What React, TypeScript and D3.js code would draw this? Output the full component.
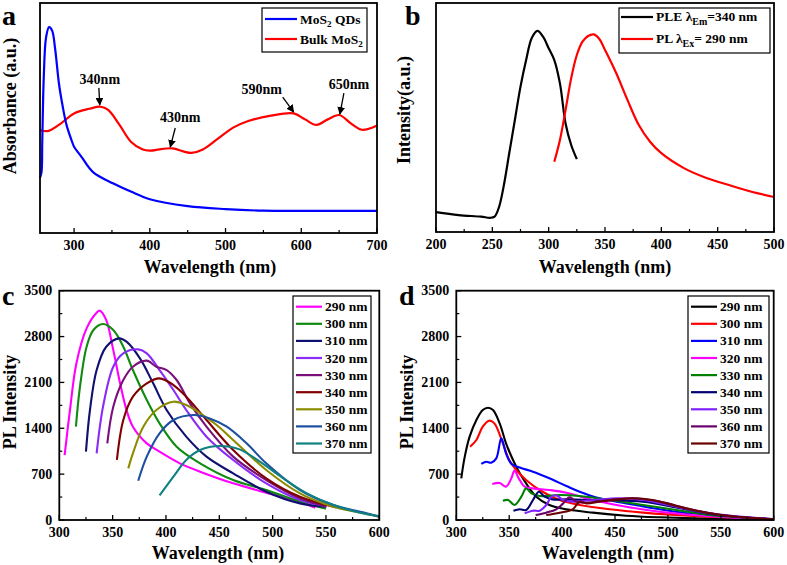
import React from "react";
import * as d3 from "d3";

type P = [number, number];

// ---------- Panel a: absorbance (a.u.) ----------
const qdsAbs: P[] = [[255,0.24],[257,0.265],[258,0.4],[260,0.68],[263,0.85],[267,0.895],[271,0.88],[275,0.8],[280,0.65],[285,0.55],[290,0.47],[297,0.4],[300,0.375],[310,0.33],[325,0.265],[352,0.215],[375,0.18],[400,0.147],[450,0.117],[500,0.104],[550,0.097],[600,0.096],[700,0.096]];
const bulkAbs: P[] = [[255,0.448],[265,0.443],[280,0.47],[300,0.52],[320,0.54],[335,0.549],[345,0.535],[360,0.47],[375,0.397],[390,0.364],[400,0.358],[415,0.365],[430,0.368],[445,0.354],[455,0.348],[470,0.363],[490,0.41],[510,0.458],[530,0.487],[560,0.51],[590,0.52],[605,0.494],[620,0.47],[635,0.494],[650,0.513],[665,0.478],[680,0.449],[695,0.46],[700,0.468]];
const absPeaks = [
  { label: "340nm", nm: 334, v: 0.557, dx: -1, dy: -17, tx: 0, ty: -21 },
  { label: "430nm", nm: 427, v: 0.374, dx: 5, dy: -19, tx: 10, ty: -25 },
  { label: "590nm", nm: 590, v: 0.526, dx: -11, dy: -15, tx: -32, ty: -18 },
  { label: "650nm", nm: 651, v: 0.517, dx: 4, dy: -21, tx: 9, ty: -25 },
];

// ---------- Panel b: PLE / PL ----------
const pleCurve: P[] = [[200,0.087],[220,0.074],[240,0.067],[248,0.062],[252,0.067],[256,0.11],[260,0.198],[265,0.344],[270,0.489],[275,0.635],[280,0.751],[285,0.847],[290,0.878],[295,0.853],[300,0.802],[305,0.751],[310,0.649],[315,0.474],[320,0.38],[325,0.318]];
const plCurve: P[] = [[305,0.307],[310,0.402],[315,0.533],[320,0.672],[325,0.773],[330,0.831],[335,0.856],[340,0.863],[345,0.843],[350,0.795],[360,0.693],[370,0.576],[380,0.467],[390,0.394],[400,0.344],[420,0.279],[440,0.236],[460,0.205],[480,0.176],[500,0.153]];

// ---------- Panel c: PL of QDs at excitation wavelengths ----------
const cEx290: P[] = [[305,992],[310,1679],[316,2390],[325.6,2925],[335,3164],[338,3195],[344,3052],[350.6,2594],[357,2086],[363,1679],[369,1424],[382,1170],[394,1043],[413,865],[432,738],[463,560],[494,417],[525.6,280],[540,188]];
const cEx300: P[] = [[315.6,1424],[319,1984],[325.6,2645],[332,2900],[341,2991],[350.6,2900],[360,2645],[369,2289],[382,1831],[394,1475],[410,1119],[432,865],[463,610],[494,458],[525.6,280],[550,173]];
const cEx310: P[] = [[325,1043],[328.75,1679],[335,2289],[344,2645],[356,2772],[363,2722],[375.6,2467],[388,2086],[400.6,1679],[419,1272],[438,967],[463,712],[494,432],[525.6,254],[550,203]];
const cEx320: P[] = [[335,1017],[341,1730],[350.6,2340],[360,2543],[374,2604],[382,2543],[394,2289],[407,1984],[419,1679],[438,1272],[463,916],[494,560],[525.6,305],[550,214]];
const cEx330: P[] = [[345,1170],[350.6,1730],[360,2137],[369,2340],[382,2432],[391,2340],[400.6,2289],[410,2137],[422.5,1780],[438,1424],[463,967],[494,610],[525.6,331],[550.6,203]];
const cEx340: P[] = [[354,916],[360,1526],[369,1882],[382,2086],[394,2162],[407,2060],[419,1882],[438,1526],[463,1068],[494,636],[525.6,356],[560,193]];
const cEx350: P[] = [[364.7,788],[369,1017],[378.75,1424],[391,1679],[407,1806],[419,1755],[432,1628],[447.5,1450],[463,1221],[494,763],[525.6,407],[557,203],[588,92],[600,51]];
const cEx360: P[] = [[374,600],[382,967],[394,1323],[407,1526],[425.6,1602],[441,1551],[457,1424],[475.6,1170],[494,865],[525.6,458],[557,229],[588,102],[600,51]];
const cEx370: P[] = [[394,376],[407,661],[419,916],[432,1068],[450.6,1129],[469,1078],[488,890],[510,636],[532,407],[557,229],[582,112],[600,61]];
const exLabels = ["290 nm","300 nm","310 nm","320 nm","330 nm","340 nm","350 nm","360 nm","370 nm"];
const cColors = ["#ff00ff","#108a10","#101070","#8a2cf6","#7a107a","#800000","#8c8c00","#1c4fa0","#108080"];

// ---------- Panel d: PL of bulk at excitation wavelengths ----------
const dEx290: P[] = [[304.7,636],[308,967],[312.6,1272],[319,1526],[325,1679],[330,1714],[334.7,1679],[341,1475],[347,1170],[353.6,916],[360,712],[366,560],[375.6,356],[388,229],[404,163],[429,112],[460.7,66],[492,41],[523.8,25],[600,10]];
const dEx300: P[] = [[313,1119],[319,1221],[325,1424],[331,1516],[336,1475],[344,1170],[350,916],[356.7,763],[366,610],[378.8,458],[397.7,305],[416.6,229],[445,163],[476.5,112],[523.8,61],[555,41],[600,10]];
const dEx310: P[] = [[323.6,855],[328,890],[333,875],[337.8,941],[342.5,1246],[347,1017],[352,860],[360,800],[372.5,738],[388,636],[404,519],[416.6,432],[435.5,331],[460.7,254],[492,163],[523.8,92],[555,51],[600,15]];
const dEx320: P[] = [[334,550],[341,565],[347,509],[352,636],[355,753],[359,636],[364.6,509],[372.5,483],[388,458],[404,417],[429,305],[460.7,203],[492,127],[523.8,76],[555,41],[600,10]];
const dEx330: P[] = [[344,295],[349,305],[355,229],[361.5,356],[366,483],[371,407],[378.8,366],[397.7,382],[416.6,366],[445,305],[476.5,229],[508,153],[539.5,76],[600,10]];
const dEx340: P[] = [[354,142],[360,163],[366,153],[372.5,305],[378,432],[383.5,356],[391,315],[404,315],[423,305],[445,305],[476.5,280],[508,193],[539.5,92],[600,10]];
const dEx350: P[] = [[364.6,102],[372.5,142],[378.8,142],[385,229],[390,356],[394.5,376],[401,305],[410,280],[429,305],[454,331],[476.5,305],[508,203],[539.5,102],[600,10]];
const dEx360: P[] = [[375,76],[385,112],[394.5,163],[401,254],[407,346],[413.5,280],[423,264],[445,305],[467,331],[492,280],[523.8,153],[555,66],[600,10]];
const dEx370: P[] = [[385,76],[397.7,112],[410,163],[416.6,280],[423,254],[435.5,280],[454,315],[467,331],[485.6,305],[508,214],[539.5,102],[571,41],[600,10]];
const dColors = ["#000000","#ff0000","#0000ff","#ff00ff","#008000","#000070","#8020ff","#6a006a","#6a0000"];

const cSeries = [cEx290,cEx300,cEx310,cEx320,cEx330,cEx340,cEx350,cEx360,cEx370];
const dSeries = [dEx290,dEx300,dEx310,dEx320,dEx330,dEx340,dEx350,dEx360,dEx370];
const plYTicks = [0,700,1400,2100,2800,3500];

const FONT = "Liberation Serif";

type Box = { l: number; r: number; t: number; b: number };

function Frame({ box, x, xMajor, xMinor, y, yMajor, yMinor, yLabels }: any) {
  const { l, r, t, b } = box;
  return (
    <g>
      {xMajor.map((v: number) => (
        <line key={"xm" + v} x1={x(v)} x2={x(v)} y1={b} y2={b - 5} stroke="#000" strokeWidth={1.3} />
      ))}
      {xMinor.map((v: number) => (
        <line key={"xn" + v} x1={x(v)} x2={x(v)} y1={b} y2={b - 3} stroke="#000" strokeWidth={1.2} />
      ))}
      {(yMajor || []).map((v: number) => (
        <line key={"ym" + v} x1={l} x2={l + 5} y1={y(v)} y2={y(v)} stroke="#000" strokeWidth={1.3} />
      ))}
      {(yMinor || []).map((v: number) => (
        <line key={"yn" + v} x1={l} x2={l + 3} y1={y(v)} y2={y(v)} stroke="#000" strokeWidth={1.2} />
      ))}
      {xMajor.map((v: number) => (
        <text key={"xt" + v} x={x(v)} y={b + 17} textAnchor="middle" fontSize={14} fontWeight="bold" fontFamily={FONT}>{v}</text>
      ))}
      {yLabels && (yMajor || []).map((v: number) => (
        <text key={"yt" + v} x={l - 7} y={y(v) + 4.5} textAnchor="end" fontSize={14} fontWeight="bold" fontFamily={FONT}>{v}</text>
      ))}
      <rect x={l} y={t} width={r - l} height={b - t} fill="none" stroke="#000" strokeWidth={1.8} />
    </g>
  );
}

function Txt({ x, y, size = 18, anchor = "middle", rotate = false, children }: any) {
  return (
    <text x={x} y={y} textAnchor={anchor} fontSize={size} fontWeight="bold" fontFamily={FONT}
      transform={rotate ? `rotate(-90 ${x} ${y})` : undefined}>{children}</text>
  );
}

function curvePath(x: any, y: any, data: P[]) {
  return d3.line<P>().x(d => x(d[0])).y(d => y(d[1])).curve(d3.curveCatmullRom.alpha(0.5))(data) || "";
}

function PanelA() {
  const box: Box = { l: 40, r: 377, t: 3, b: 233 };
  const x = d3.scaleLinear().domain([255, 700]).range([box.l, box.r]);
  const y = d3.scaleLinear().domain([0, 1]).range([box.b, box.t]);
  return (
    <g>
      <path d={curvePath(x, y, bulkAbs)} fill="none" stroke="#ff0000" strokeWidth={2.2} />
      <path d={curvePath(x, y, qdsAbs)} fill="none" stroke="#0000ff" strokeWidth={2.2} />
      {absPeaks.map(p => {
        const px = x(p.nm), py = y(p.v);
        return (
          <g key={p.label}>
            <line x1={px + p.dx} y1={py + p.dy} x2={px} y2={py} stroke="#000" strokeWidth={1.3} markerEnd="url(#arr)" />
            <Txt x={px + p.tx} y={py + p.ty} size={14}>{p.label}</Txt>
          </g>
        );
      })}
      <rect x={262} y={8} width={105} height={44} fill="#fff" stroke="#000" strokeWidth={1.2} />
      <line x1={265} x2={297} y1={19} y2={19} stroke="#0000ff" strokeWidth={2.2} />
      <line x1={265} x2={297} y1={39} y2={39} stroke="#ff0000" strokeWidth={2.2} />
      <text x={300} y={24} fontSize={13.5} fontWeight="bold" fontFamily={FONT}>MoS<tspan fontSize={9} dy={3}>2</tspan><tspan dy={-3}> QDs</tspan></text>
      <text x={300} y={44} fontSize={13.5} fontWeight="bold" fontFamily={FONT}>Bulk MoS<tspan fontSize={9} dy={3}>2</tspan></text>
      <Frame box={box} x={x} y={y} xMajor={[300, 400, 500, 600, 700]} xMinor={[350, 450, 550, 650]} />
      <Txt x={210} y={273}>Wavelength (nm)</Txt>
      <Txt x={16} y={106} rotate>Absorbance (a.u.)</Txt>
      <Txt x={2} y={25} size={28} anchor="start">a</Txt>
    </g>
  );
}

function PanelB() {
  const box: Box = { l: 436, r: 774, t: 3, b: 232 };
  const x = d3.scaleLinear().domain([200, 500]).range([box.l, box.r]);
  const y = d3.scaleLinear().domain([0, 1]).range([box.b, box.t]);
  return (
    <g>
      <path d={curvePath(x, y, pleCurve)} fill="none" stroke="#000" strokeWidth={2.2} />
      <path d={curvePath(x, y, plCurve)} fill="none" stroke="#ff0000" strokeWidth={2.2} />
      <rect x={619} y={8} width={151} height={45} fill="#fff" stroke="#000" strokeWidth={1.2} />
      <line x1={621} x2={653} y1={17} y2={17} stroke="#000" strokeWidth={2.2} />
      <line x1={621} x2={653} y1={39} y2={39} stroke="#ff0000" strokeWidth={2.2} />
      <text x={656} y={21} fontSize={13.5} fontWeight="bold" fontFamily={FONT}>PLE λ<tspan fontSize={10} dy={4}>Em</tspan><tspan dy={-4}>=340 nm</tspan></text>
      <text x={656} y={43} fontSize={13.5} fontWeight="bold" fontFamily={FONT}>PL λ<tspan fontSize={10} dy={4}>Ex</tspan><tspan dy={-4}>= 290 nm</tspan></text>
      <Frame box={box} x={x} y={y} xMajor={[200, 250, 300, 350, 400, 450, 500]} xMinor={[225, 275, 325, 375, 425, 475]} />
      <Txt x={605} y={273}>Wavelength (nm)</Txt>
      <Txt x={410} y={110} rotate>Intensity(a.u.)</Txt>
      <Txt x={405} y={25} size={28} anchor="start">b</Txt>
    </g>
  );
}

function PLPanel({ box, series, colors, legend, letter, letterX, yLabelX, xLabelX }: any) {
  const x = d3.scaleLinear().domain([300, 600]).range([box.l, box.r]);
  const y = d3.scaleLinear().domain([0, 3500]).range([box.b, box.t]);
  const yMinor = d3.range(350, 3500, 700);
  return (
    <g>
      {series.map((s: P[], i: number) => (
        <path key={i} d={curvePath(x, y, s)} fill="none" stroke={colors[i]} strokeWidth={2.1} />
      ))}
      <rect x={legend.x} y={legend.y} width={legend.w} height={legend.h} fill="#fff" stroke="#000" strokeWidth={1.2} />
      {exLabels.map((lab, i) => {
        const ly = legend.y + 10.7 + i * 17.1;
        return (
          <g key={lab}>
            <line x1={legend.x + 3} x2={legend.x + 29} y1={ly} y2={ly} stroke={colors[i]} strokeWidth={2.2} />
            <text x={legend.x + 32} y={ly + 4.5} fontSize={13.5} fontWeight="bold" fontFamily={FONT}>{lab}</text>
          </g>
        );
      })}
      <Frame box={box} x={x} y={y} xMajor={[300, 350, 400, 450, 500, 550, 600]} xMinor={[325, 375, 425, 475, 525, 575]}
        yMajor={plYTicks} yMinor={yMinor} yLabels />
      <Txt x={xLabelX} y={559}>Wavelength (nm)</Txt>
      <Txt x={yLabelX} y={402} rotate>PL Intensity</Txt>
      <Txt x={letterX} y={305} size={28} anchor="start">{letter}</Txt>
    </g>
  );
}

export default function App() {
  return (
    <svg width={787} height={565} viewBox="0 0 787 565" style={{ position: "absolute", left: 0, top: 0, background: "#fff" }}>
      <defs>
        <marker id="arr" viewBox="0 0 10 10" refX="9" refY="5" markerWidth="6" markerHeight="6" orient="auto">
          <path d="M0,0 L10,5 L0,10 z" fill="#000" />
        </marker>
      </defs>
      <rect width={787} height={565} fill="#fff" />
      <PanelA />
      <PanelB />
      <PLPanel box={{ l: 59.3, r: 379.3, t: 290.7, b: 520 }} series={cSeries} colors={cColors}
        legend={{ x: 293, y: 296, w: 78, h: 157 }} letter="c" letterX={2} yLabelX={16} xLabelX={218} />
      <PLPanel box={{ l: 456.3, r: 773.7, t: 290.7, b: 520 }} series={dSeries} colors={dColors}
        legend={{ x: 688, y: 296, w: 81, h: 157 }} letter="d" letterX={399} yLabelX={413} xLabelX={608} />
    </svg>
  );
}
